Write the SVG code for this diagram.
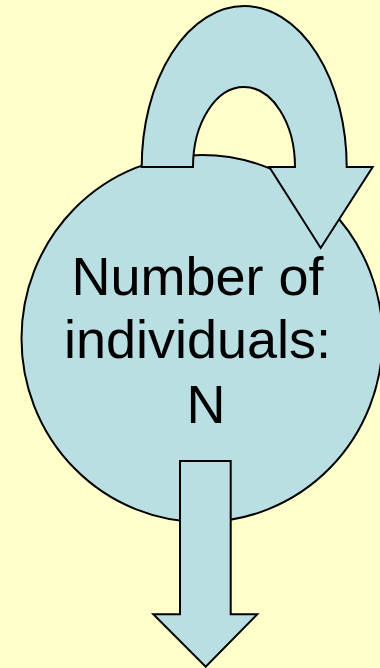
<svg xmlns="http://www.w3.org/2000/svg" width="380" height="668" viewBox="0 0 380 668">
  <style>
    .shape { fill: #B9DFE3; stroke: #000; stroke-width: 2; stroke-linejoin: miter; }
    .label { font-family: "Liberation Sans", "DejaVu Sans", sans-serif; font-size: 54px; fill: #000; text-anchor: middle; }
  </style>
  <rect x="0" y="0" width="380" height="668" fill="#FFFFCC"/>
  <g id="population">
    <ellipse class="shape" cx="202" cy="338.5" rx="180.5" ry="183.5"/>
    <text class="label" x="197.5" y="295">Number of</text>
    <text class="label" x="197.5" y="358">individuals:</text>
    <text class="label" x="206" y="423">N</text>
  </g>
  <g id="connectors">
    <path id="self-loop" class="shape" d="M141.7,167 A102.5,161 0 0 1 346.7,167 L372.7,167 L320.7,248 L269.3,167 L295,167 A51,80 0 0 0 193,167 Z"/>
    <path id="outflow" class="shape" d="M180,461 L230.7,461 L230.7,614.3 L257.3,614.3 L205.7,666.7 L153.3,614.3 L180,614.3 Z"/>
  </g>
</svg>
